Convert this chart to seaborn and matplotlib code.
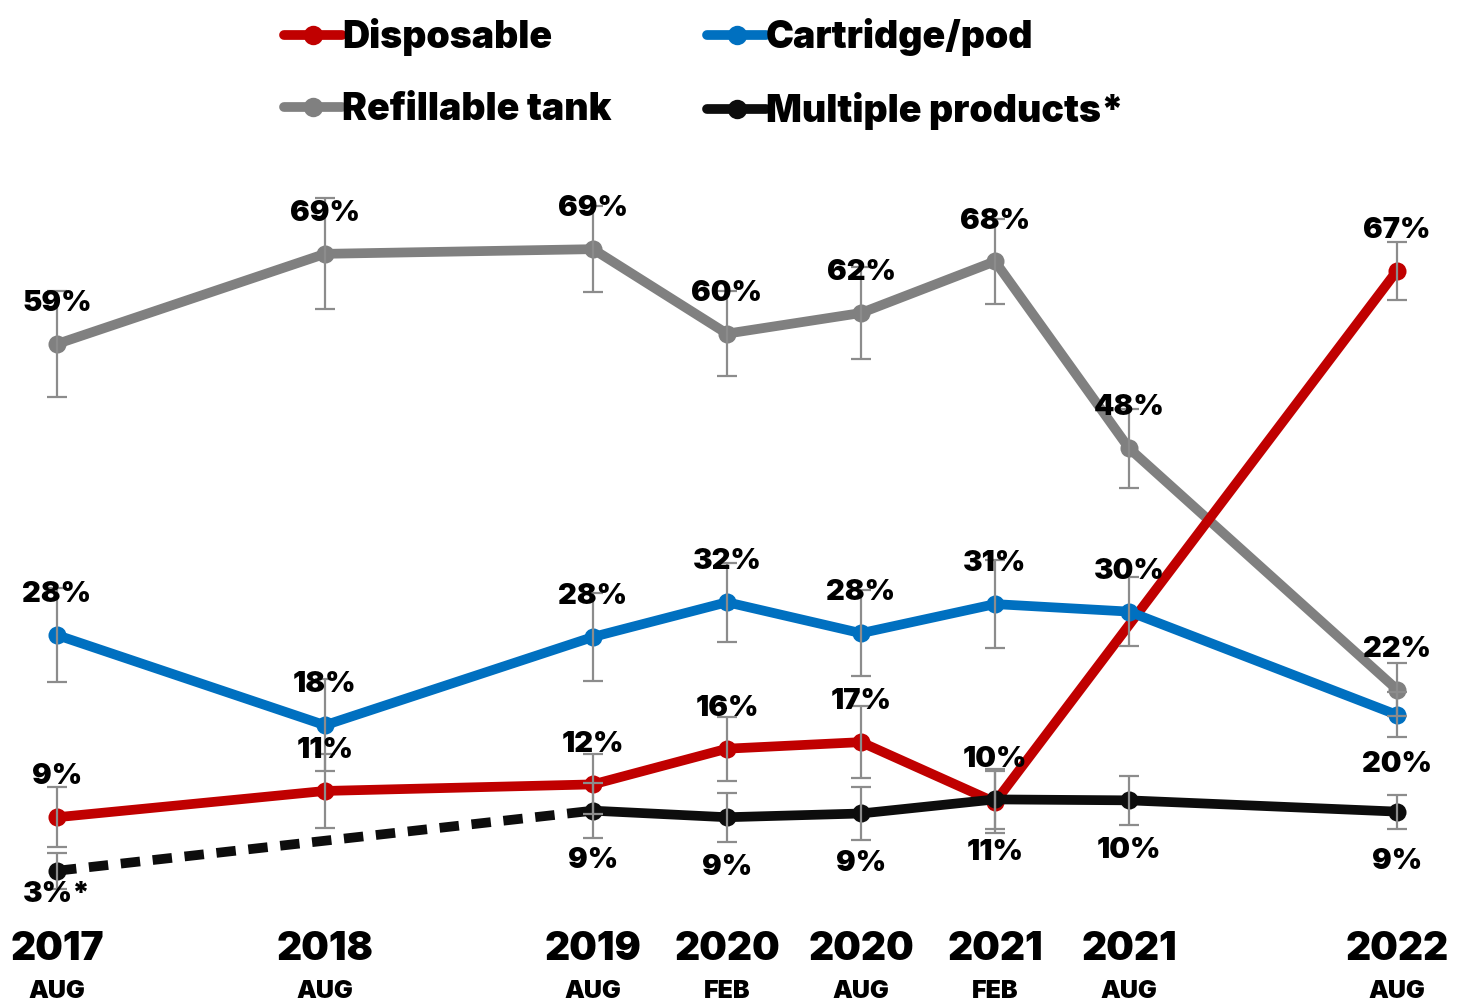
import numpy as np
import pandas as pd
import seaborn as sns
import matplotlib.pyplot as plt
from matplotlib.lines import Line2D
from matplotlib.transforms import blended_transform_factory

# survey waves
years = [2017, 2018, 2019, 2020, 2020, 2021, 2021, 2022]
months = ['AUG', 'AUG', 'AUG', 'FEB', 'AUG', 'FEB', 'AUG', 'AUG']

disposable = [8.6, 11.4, 12.1, 15.9, 16.6, 10.2, np.nan, 66.8]
cartridge = [28.0, 18.4, 27.8, 31.5, 28.2, 31.3, 30.5, 19.5]
refillable = [59.0, 68.6, 69.1, 60.1, 62.3, 67.8, 47.9, 22.2]
multiple = [2.9, np.nan, 9.3, 8.6, 9.0, 10.5, 10.4, 9.2]

# error bar half-widths
disposable_err = [3.2, 3.9, 3.2, 3.4, 3.8, 3.3, np.nan, 3.1]
cartridge_err = [5.0, 4.9, 4.7, 4.2, 4.6, 4.7, 3.7, 2.4]
refillable_err = [5.6, 5.9, 4.6, 4.5, 4.9, 4.5, 4.2, 2.8]
multiple_err = [1.9, np.nan, 2.9, 2.6, 2.8, 3.2, 2.6, 1.8]

# printed labels
disposable_lbl = ['9%', '11%', '12%', '16%', '17%', '11%', '', '67%']
cartridge_lbl = ['28%', '18%', '28%', '32%', '28%', '31%', '30%', '20%']
refillable_lbl = ['59%', '69%', '69%', '60%', '62%', '68%', '48%', '22%']
multiple_lbl = ['3%*', '', '9%', '9%', '9%', '10%', '10%', '9%']

month_num = {'FEB': 2, 'AUG': 8}
x = [y + (month_num[m] - 1) / 12 for y, m in zip(years, months)]

RED, BLUE, GRAY, BLACK = '#C00000', '#0070C0', '#808080', '#0D0D0D'

sns.set_style('white')
plt.rcParams['font.family'] = ['Inter', 'DejaVu Sans']
plt.rcParams['text.color'] = 'black'
WEIGHT = 'black'

W, H = 1465, 1005
fig = plt.figure(figsize=(W / 100, H / 100), dpi=100)
top_px, bot_px = 150, 915
ax = fig.add_axes([0, (H - bot_px) / H, 1, (bot_px - top_px) / H])

px_per_year = 268
x0 = x[0] - 57 / px_per_year
ax.set_xlim(x0, x0 + W / px_per_year)
px_per_pct = 9.39
ax.set_ylim(-(bot_px - 898) / px_per_pct, (898 - top_px) / px_per_pct)
ax.axis('off')

series = [
    ('Refillable tank', refillable, refillable_err, refillable_lbl, GRAY, ['up'] * 8),
    ('Disposable', disposable, disposable_err, disposable_lbl, RED, ['up'] * 5 + ['down', 'up', 'up']),
    ('Cartridge/pod', cartridge, cartridge_err, cartridge_lbl, BLUE, ['up'] * 7 + ['down']),
]

lw, ms = 7, 13
z = 2
for name, vals, errs, lbls, col, sides in series:
    df = pd.DataFrame({'x': x, 'v': vals})
    sns.lineplot(data=df.dropna(), x='x', y='v', color=col, linewidth=lw,
                 marker='o', markersize=ms, markeredgewidth=0, ax=ax, zorder=z,
                 solid_joinstyle='round', solid_capstyle='round')
    z += 1

# multiple products: dashed to first complete wave, then solid
df_m = pd.DataFrame({'x': x, 'v': multiple}).dropna()
sns.lineplot(data=df_m.iloc[:2], x='x', y='v', color=BLACK, linewidth=lw,
             linestyle=(0, (2.0, 1.3)), ax=ax, zorder=z)
sns.lineplot(data=df_m.iloc[1:], x='x', y='v', color=BLACK, linewidth=lw,
             marker='o', markersize=ms, markeredgewidth=0, ax=ax, zorder=z,
             solid_joinstyle='round')
ax.plot(df_m['x'].iloc[:1], df_m['v'].iloc[:1], 'o', color=BLACK, markersize=ms,
        markeredgewidth=0, zorder=z)
series.append(('Multiple products*', multiple, multiple_err, multiple_lbl, BLACK,
               ['down'] * 5 + ['up', 'down', 'down']))

for name, vals, errs, lbls, col, sides in series:
    ax.errorbar(x, vals, yerr=errs, fmt='none', ecolor='#8C8C8C', elinewidth=1.6,
                capsize=7, capthick=1.6, zorder=10)
    for i, (xi, v, lb, sd) in enumerate(zip(x, vals, lbls, sides)):
        if not lb or np.isnan(v):
            continue
        off = 29 if sd == 'up' else -36
        if lb.endswith('*'):
            off = -17
        ax.annotate(lb, (xi, v), xytext=(0, off), textcoords='offset points',
                    ha='center', va='center', fontsize=21, fontweight=WEIGHT,
                    color='black', zorder=12)

# x labels
tr = blended_transform_factory(ax.transData, ax.transAxes)
for xi, yr, mo in zip(x, years, months):
    ax.annotate(str(yr), (xi, 0), xycoords=tr, xytext=(0, -25), textcoords='offset points',
                ha='center', va='center', fontsize=28, fontweight=WEIGHT, color='black')
    ax.annotate(mo, (xi, 0), xycoords=tr, xytext=(0, -55), textcoords='offset points',
                ha='center', va='center', fontsize=18, fontweight=WEIGHT, color='black')

handles = [Line2D([], [], color=c, lw=lw, marker='o', markersize=ms + 1, markeredgewidth=0)
           for c in (RED, GRAY, BLUE, BLACK)]
labels = ['Disposable', 'Refillable tank', 'Cartridge/pod', 'Multiple products*']
fig.legend(handles, labels, ncol=2, loc='upper left', bbox_to_anchor=(283 / W - 0.017, 1.008),
           frameon=False, prop={'size': 27, 'weight': WEIGHT}, handlelength=1.55,
           handletextpad=0.0, columnspacing=2.55, labelspacing=0.95, borderaxespad=0.3,
           labelcolor='black')

fig.savefig('out.png', dpi=100)
